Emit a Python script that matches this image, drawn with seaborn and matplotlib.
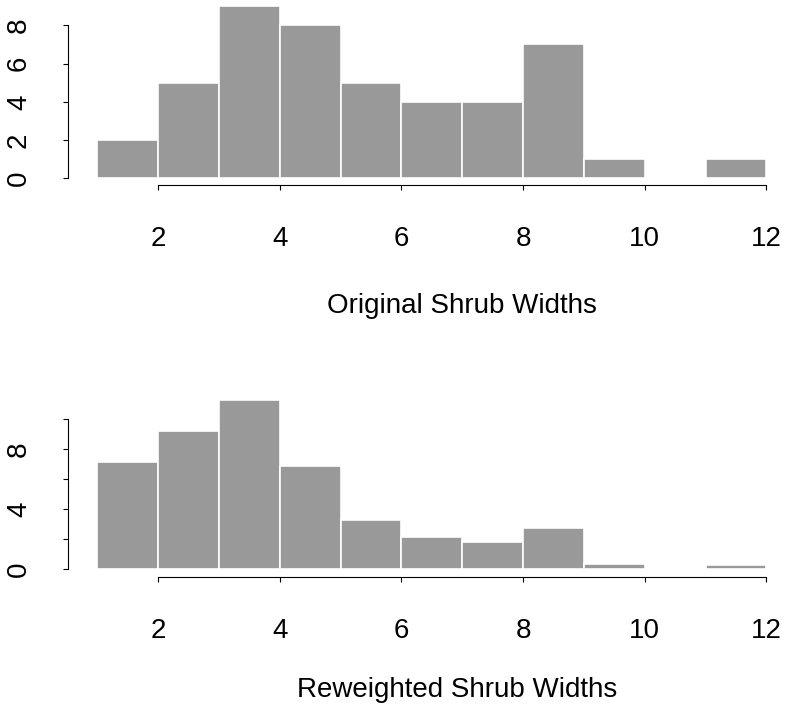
import matplotlib
matplotlib.use("Agg")
import matplotlib.pyplot as plt
import seaborn as sns
import numpy as np
import pandas as pd

# ---- data ----
bin_edges = [1, 2, 3, 4, 5, 6, 7, 8, 9, 10, 11, 12]
original_counts = [2, 5, 9, 8, 5, 4, 4, 7, 1, 0, 1]
reweighted_counts = [7.17, 9.24, 11.29, 6.89, 3.29, 2.13, 1.81, 2.77, 0.34, 0.0, 0.26]
x_ticks = [2, 4, 6, 8, 10, 12]
x_tick_labels = ["2", "4", "6", "8", "10", "12"]
top_y_ticks = [0, 2, 4, 6, 8]
top_y_labels = ["0", "2", "4", "6", "8"]
bottom_y_ticks = [0, 2, 4, 6, 8, 10]
bottom_y_labels = ["0", "", "4", "", "8", ""]
xlabels = ["Original Shrub Widths", "Reweighted Shrub Widths"]

sns.set_style("ticks")
plt.rcParams["font.family"] = ["Liberation Sans", "DejaVu Sans"]
plt.rcParams["text.color"] = "black"
plt.rcParams["axes.labelcolor"] = "black"
plt.rcParams["xtick.color"] = "black"
plt.rcParams["ytick.color"] = "black"

W, H = 785, 711
fig = plt.figure(figsize=(W / 100, H / 100), dpi=100)
fig.patch.set_facecolor("white")


def px_axes(left, right, top, bottom):
    return fig.add_axes([left / W, 1 - bottom / H, (right - left) / W, (bottom - top) / H])


centers = [(a + b) / 2 for a, b in zip(bin_edges[:-1], bin_edges[1:])]

panels = [
    dict(counts=original_counts, top=-0.7, bottom=185.1, ylim=(-0.36, 9.36),
         yticks=top_y_ticks, ylabels=top_y_labels, ybounds=(0, 8),
         label=xlabels[0], label_x=461.7, label_base=313.3),
    dict(counts=reweighted_counts, top=393.2, bottom=576.7, ylim=(-0.49, 11.74),
         yticks=bottom_y_ticks, ylabels=bottom_y_labels, ybounds=(0, 10),
         label=xlabels[1], label_x=457.0, label_base=696.7),
]

left_px, right_px = 68.3, 795.5
for p in panels:
    ax = px_axes(left_px, right_px, p["top"], p["bottom"])
    df = pd.DataFrame({"width": centers, "w": p["counts"]})
    sns.histplot(data=df, x="width", weights="w", bins=bin_edges, ax=ax,
                 color="#999999", edgecolor="white", linewidth=1.2, alpha=1.0)
    ax.set_xlim(0.52, 12.48)
    ax.set_ylim(*p["ylim"])
    ax.set_ylabel("")
    for s in ["top", "right"]:
        ax.spines[s].set_visible(False)
    ax.spines["left"].set_bounds(*p["ybounds"])
    ax.spines["bottom"].set_bounds(2, 12)
    for s in ["left", "bottom"]:
        ax.spines[s].set_linewidth(0.8)
        ax.spines[s].set_color("black")
    ax.set_xticks(x_ticks)
    ax.set_xticklabels(x_tick_labels)
    ax.set_yticks(p["yticks"])
    ax.set_yticklabels(p["ylabels"], rotation=90, va="center")
    ax.tick_params(axis="x", bottom=True, length=3.6, width=0.8, color="black",
                   labelcolor="black", pad=26, labelsize=20)
    ax.tick_params(axis="y", left=True, length=3.6, width=0.8, color="black",
                   labelcolor="black", pad=22.5, labelsize=20)
    ax.set_xlabel(p["label"], fontsize=20, color="black")
    ax.xaxis.label.set_va("baseline")
    ax.xaxis.set_label_coords((p["label_x"] - left_px) / (right_px - left_px),
                              -(p["label_base"] - p["bottom"]) / (p["bottom"] - p["top"]))
    ax.set_facecolor("white")
    ax.grid(False)

fig.savefig("out.png", dpi=100, facecolor="white")
